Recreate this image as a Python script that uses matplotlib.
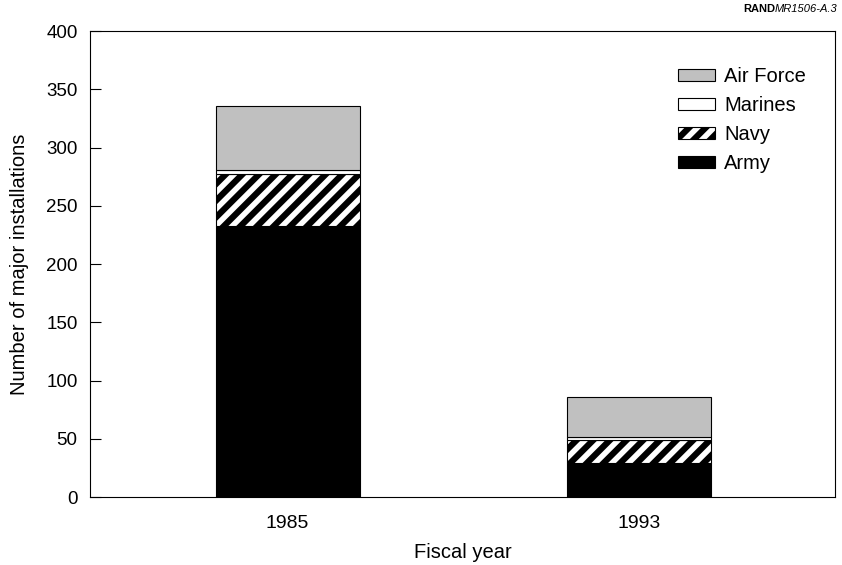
import numpy as np
import matplotlib
matplotlib.use('Agg')
from matplotlib import pyplot as plt

plt.rcParams['font.family'] = ['Liberation Sans', 'DejaVu Sans']
plt.rcParams['hatch.linewidth'] = 4.5

years = ['1985', '1993']
army = [233, 29]
navy = [44, 20]
marines = [4, 3]
air_force = [55, 34]


def draw():
	fig = plt.figure(figsize=(8.42, 5.65), dpi=100)
	ax = fig.add_axes([0.107, 0.12, 0.885, 0.825])

	x = np.arange(len(years))
	w = 0.41
	army_a = np.array(army)
	navy_a = np.array(navy)
	marines_a = np.array(marines)
	af_a = np.array(air_force)

	ax.bar(x, army_a, w, color='black', edgecolor='black', linewidth=0.8, label='Army')
	ax.bar(x, navy_a, w, bottom=army_a, color='white', edgecolor='black',
		hatch='//', linewidth=0.8, label='Navy')
	ax.bar(x, marines_a, w, bottom=army_a + navy_a, color='white', edgecolor='black',
		linewidth=0.8, label='Marines')
	ax.bar(x, af_a, w, bottom=army_a + navy_a + marines_a, color='#c0c0c0',
		edgecolor='black', linewidth=0.8, label='Air Force')

	ax.set_xlim(-0.562, 1.558)
	ax.set_ylim(0, 400)
	ax.set_yticks(range(0, 401, 50))
	ax.set_xticks(x)
	ax.set_xticklabels(years)
	ax.tick_params(axis='y', direction='in', length=8, width=0.8, labelsize=13.5, pad=9)
	ax.tick_params(axis='x', length=0, labelsize=14, pad=13)
	for s in ax.spines.values():
		s.set_linewidth(0.8)

	ax.set_xlabel('Fiscal year', fontsize=14.5, labelpad=8)
	ax.set_ylabel('Number of major installations', fontsize=14.5, labelpad=12)

	h, l = ax.get_legend_handles_labels()
	ax.legend(h[::-1], l[::-1], loc='upper right', bbox_to_anchor=(0.985, 0.962),
		frameon=False, fontsize=14.5, handlelength=1.85, handleheight=0.55,
		labelspacing=0.5, handletextpad=0.45)

	t = fig.text(0.995, 0.984, 'MR1506-A.3', fontsize=8, style='italic', ha='right', va='center')
	fig.canvas.draw()
	bb = t.get_window_extent()
	fig.text(bb.x0 / fig.bbox.width, 0.984, 'RAND', fontsize=8, weight='bold', ha='right', va='center')

	fig.savefig('out.png', dpi=100)


if __name__ == "__main__":
	draw()
